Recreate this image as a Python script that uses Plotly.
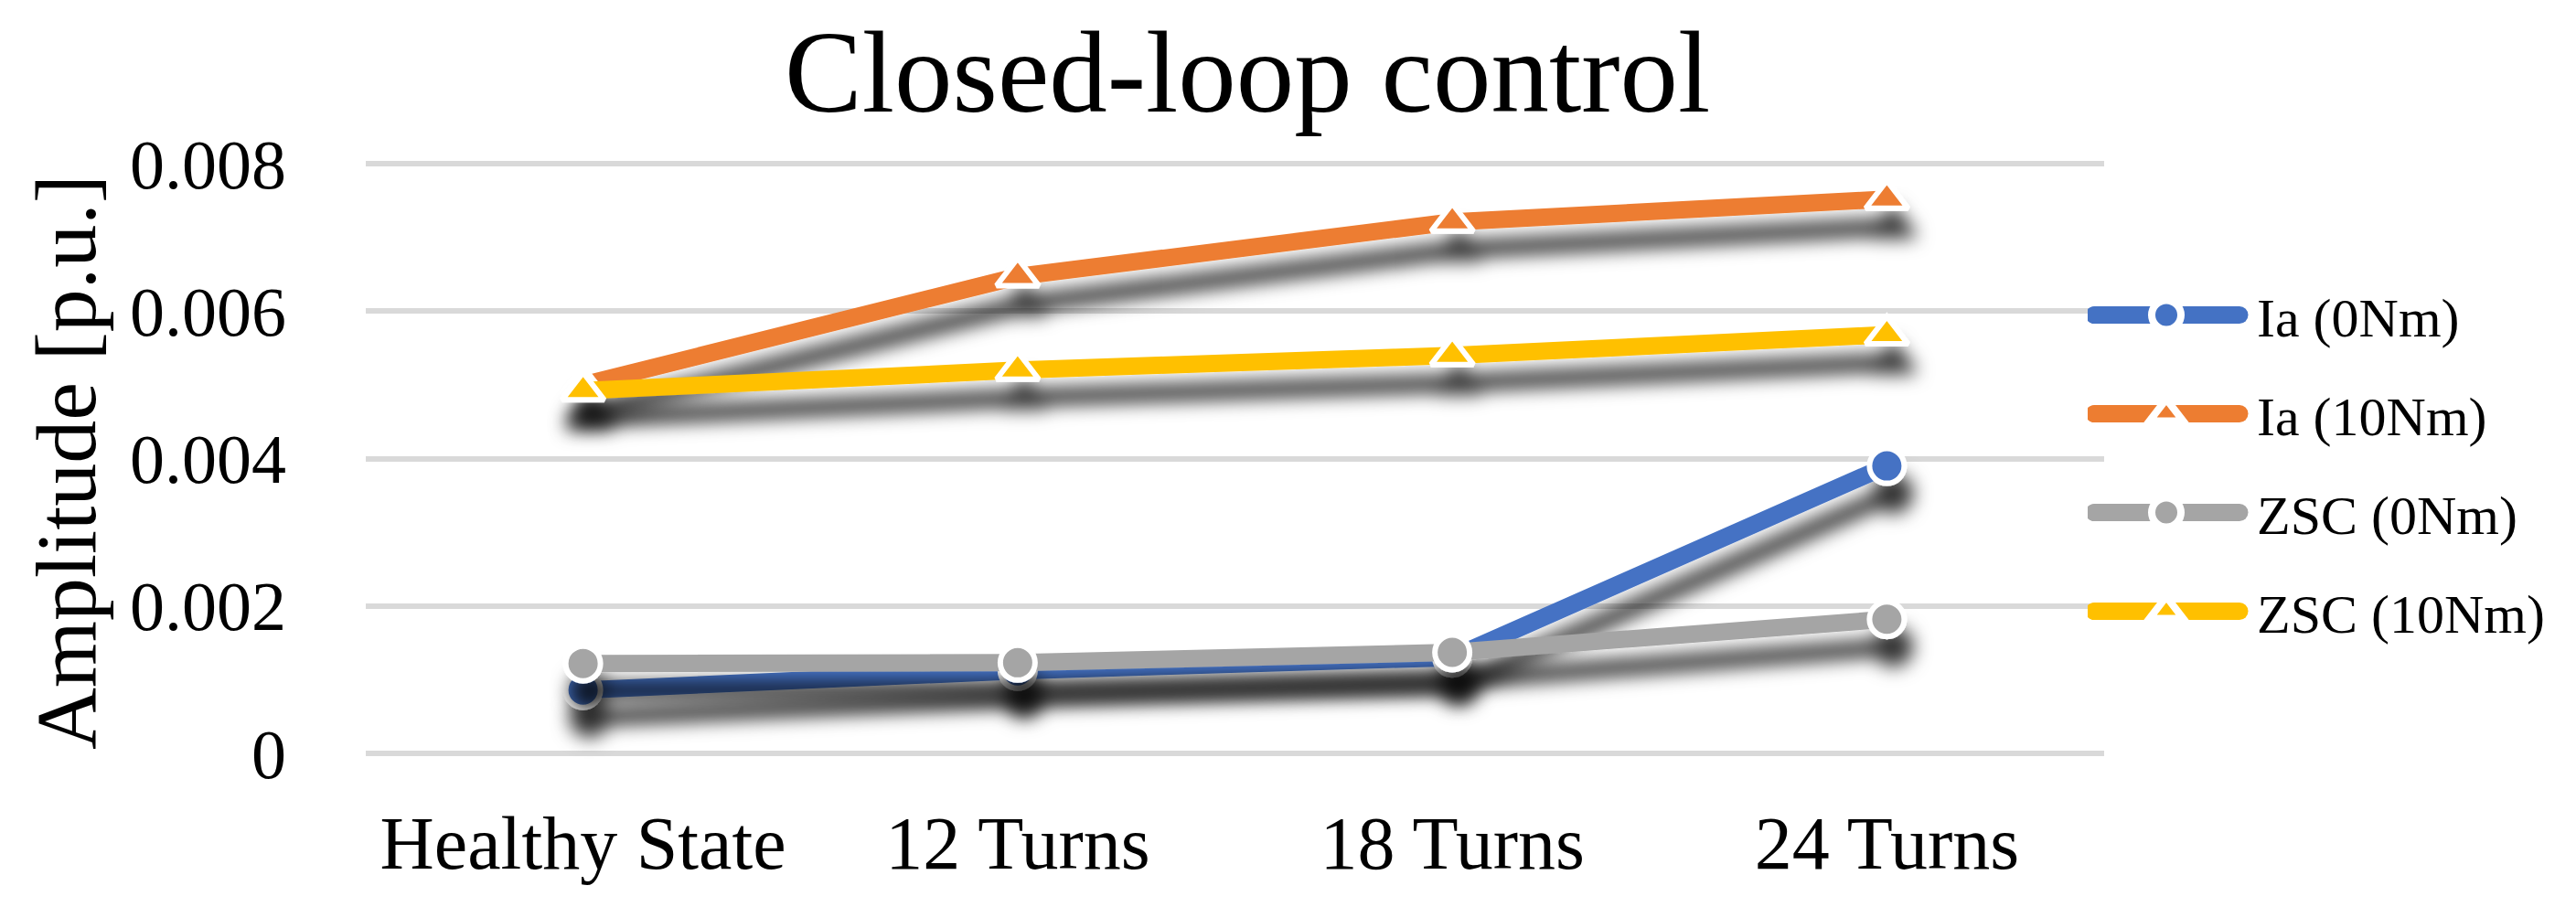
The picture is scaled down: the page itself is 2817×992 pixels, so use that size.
import plotly.graph_objects as go

categories = ["Healthy State", "12 Turns", "18 Turns", "24 Turns"]
ia_0nm = [0.00086, 0.00112, 0.00130, 0.00390]
ia_10nm = [0.00500, 0.00647, 0.00721, 0.00752]
zsc_0nm = [0.00122, 0.00123, 0.00137, 0.00182]
zsc_10nm = [0.00492, 0.00520, 0.00540, 0.00568]
series_names = ["Ia (0Nm)", "Ia (10Nm)", "ZSC (0Nm)", "ZSC (10Nm)"]
y_ticks = [0, 0.002, 0.004, 0.006, 0.008]
y_tick_text = ["0", "0.002", "0.004", "0.006", "0.008"]

colors = ["#4472C4", "#ED7D31", "#A5A5A5", "#FFC000"]
symbols = ["circle", "triangle-up", "circle", "triangle-up"]
sizes = [38, 40, 38, 40]
FONT = "Liberation Serif"

fig = go.Figure()
for i, (name, vals) in enumerate(zip(series_names, [ia_0nm, ia_10nm, zsc_0nm, zsc_10nm])):
    fig.add_trace(go.Scatter(
        x=categories, y=vals, name=name, mode="lines+markers",
        legendgroup=f"g{i}",
        line=dict(color=colors[i], width=19),
        marker=dict(symbol=symbols[i], size=sizes[i], color=colors[i],
                    line=dict(color="white", width=6)),
        cliponaxis=False,
    ))

W, H = 2817, 992
plot_left, plot_right, plot_bottom = 392, 2293, 816
ymax = 0.0081
px_per_unit = (816 - 171) / 0.008
plot_top = plot_bottom - ymax * px_per_unit
plot_h = plot_bottom - plot_top
plot_w = plot_right - plot_left

def px_x(x):
    return (x - plot_left) / plot_w

def px_y(y):
    return (plot_bottom - y) / plot_h

fig.update_layout(
    width=W, height=H,
    margin=dict(l=plot_left, r=W - plot_right, t=plot_top, b=H - plot_bottom, autoexpand=False),
    paper_bgcolor="white", plot_bgcolor="white",
    font=dict(family=FONT, color="black"),
    showlegend=True,
    legend=dict(
        x=px_x(2275), xanchor="left", y=px_y(291), yanchor="top",
        font=dict(size=60, family=FONT, color="black"),
        itemwidth=175, tracegroupgap=27, bgcolor="rgba(0,0,0,0)",
        traceorder="grouped",
    ),
    xaxis=dict(
        type="category", categoryorder="array", categoryarray=categories,
        range=[-0.5, 3.5], showgrid=False, zeroline=False, showline=False,
        tickfont=dict(size=82, family=FONT, color="black"),
        ticks="", ticklabelstandoff=43,
    ),
    yaxis=dict(
        range=[0, ymax], tickvals=y_ticks, ticktext=y_tick_text,
        showgrid=True, gridcolor="#D9D9D9", gridwidth=6,
        zeroline=True, zerolinecolor="#D9D9D9", zerolinewidth=6,
        showline=False, ticks="", ticklabelstandoff=86,
        tickfont=dict(size=76, family=FONT, color="black"),
    ),
    annotations=[
        dict(text="Closed-loop control", x=px_x(1356), y=px_y(71), xref="paper", yref="paper",
             xanchor="center", yanchor="middle", showarrow=False,
             font=dict(size=127, family=FONT, color="black")),
        dict(text="Amplitude [p.u.]", x=px_x(64), y=px_y(498), xref="paper", yref="paper",
             xanchor="center", yanchor="middle", showarrow=False, textangle=-90,
             font=dict(size=94, family=FONT, color="black")),
    ],
)

post = """
var gd = document.getElementById('{plot_id}');
function decorate(){
  var svg = gd.querySelector('svg.main-svg');
  if(!svg) return;
  var ns = 'http://www.w3.org/2000/svg';
  if(!document.getElementById('xlshadow')){
    var defs = svg.querySelector('defs');
    if(!defs){ defs = document.createElementNS(ns,'defs'); svg.insertBefore(defs, svg.firstChild); }
    var f = document.createElementNS(ns,'filter');
    f.setAttribute('id','xlshadow');
    f.setAttribute('filterUnits','userSpaceOnUse');
    f.setAttribute('x','-1000'); f.setAttribute('y','-1000');
    f.setAttribute('width','6000'); f.setAttribute('height','4000');
    var ds = document.createElementNS(ns,'feDropShadow');
    ds.setAttribute('dx','7'); ds.setAttribute('dy','30');
    ds.setAttribute('stdDeviation','10');
    ds.setAttribute('flood-color','#000'); ds.setAttribute('flood-opacity','0.8');
    f.appendChild(ds); defs.appendChild(f);
  }
  gd.querySelectorAll('.scatterlayer .trace').forEach(function(t){ t.setAttribute('filter','url(#xlshadow)'); });
  // legend glyphs: thick round-capped line with enlarged marker, as in the source chart
  gd.querySelectorAll('.legend .traces').forEach(function(tr){
    var txt = tr.querySelector('text.legendtext');
    if(!txt) return;
    var tx = parseFloat(txt.getAttribute('x')) || 0;
    var x0 = tx - 178, x1 = tx - 19, cx = tx - 99;
    tr.querySelectorAll('.js-line').forEach(function(p){
      p.setAttribute('d', 'M' + x0 + ',0H' + x1);
      p.style.strokeWidth = '19px';
      p.style.strokeLinecap = 'round';
    });
    tr.querySelectorAll('.legendpoints path.scatterpts').forEach(function(p){
      p.setAttribute('transform', 'translate(' + cx + ',0) scale(2)');
      p.style.strokeWidth = '4px';
      p.style.stroke = 'white';
    });
  });
}
decorate();
gd.on('plotly_afterplot', decorate);
"""

fig.write_html("out.html", post_script=post, config={"displayModeBar": False})
